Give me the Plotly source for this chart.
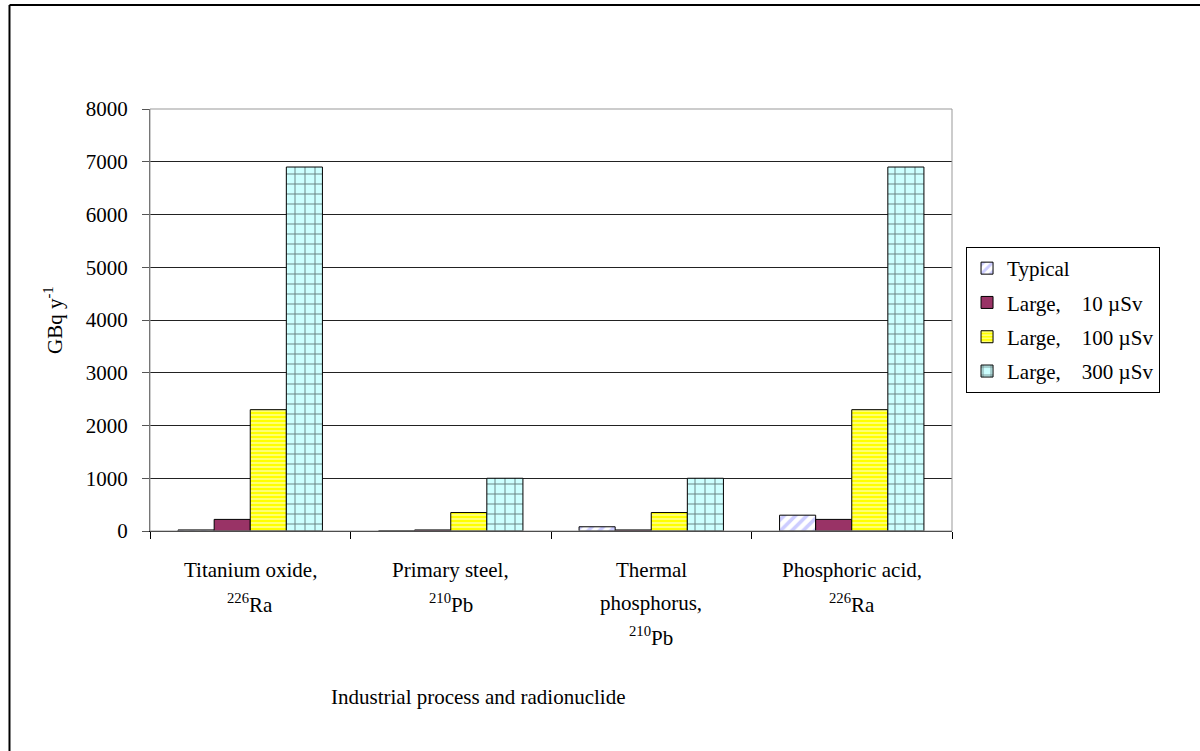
import plotly.graph_objects as go

# ---- data ----
categories = ["Titanium oxide", "Primary steel", "Thermal phosphorus", "Phosphoric acid"]
category_label_lines = [
    ["Titanium oxide,", "<sup>226</sup>Ra"],
    ["Primary steel,", "<sup>210</sup>Pb"],
    ["Thermal", "phosphorus,", "<sup>210</sup>Pb"],
    ["Phosphoric acid,", "<sup>226</sup>Ra"],
]
series_names = ["Typical", "Large,\u00a0\u00a0\u00a0 10 µSv", "Large,\u00a0\u00a0\u00a0 100 µSv", "Large,\u00a0\u00a0\u00a0 300 µSv"]
typical = [20, 0, 80, 300]
large_10 = [220, 20, 20, 220]
large_100 = [2300, 350, 350, 2300]
large_300 = [6900, 1000, 1000, 6900]
y_ticks = [0, 1000, 2000, 3000, 4000, 5000, 6000, 7000, 8000]
y_title = "GBq y<sup>-1</sup>"
x_title = "Industrial process and radionuclide"

FONT = "Liberation Serif"
FS = 21

patterns = [
    dict(shape="/", fgcolor="#9999FF", bgcolor="white", size=8, solidity=0.45, fillmode="overlay"),
    None,
    dict(shape="-", fgcolor="white", bgcolor="#FFFF00", size=4, solidity=0.45, fillmode="overlay"),
    dict(shape="+", fgcolor="#000000", bgcolor="#CCFFFF", size=10, solidity=0.18, fillmode="overlay"),
]
colors = ["white", "#993366", "#FFFF00", "#CCFFFF"]

fig = go.Figure()
for i, (name, vals) in enumerate(zip(series_names, [typical, large_10, large_100, large_300])):
    m = dict(color=colors[i], line=dict(color="#000000", width=1))
    if patterns[i] is not None:
        m["pattern"] = patterns[i]
    fig.add_trace(go.Bar(x=categories, y=vals, name=name, marker=m, legendgroup=f"g{i}"))

# category labels (multi-line with wide spacing)
line_y = [-0.092, -0.171, -0.249]
annotations = []
for cat, lines in zip(categories, category_label_lines):
    for j, ln in enumerate(lines):
        annotations.append(dict(x=cat, y=line_y[j], xref="x", yref="paper", text=ln,
                                showarrow=False, xanchor="center", yanchor="middle",
                                font=dict(family=FONT, size=FS, color="black")))
annotations.append(dict(x=0.409, y=-0.393, xref="paper", yref="paper", text=x_title,
                        showarrow=False, xanchor="center", yanchor="middle",
                        font=dict(family=FONT, size=FS, color="black")))
annotations.append(dict(x=-0.121, y=0.5, xref="paper", yref="paper", text=y_title,
                        showarrow=False, textangle=-90, xanchor="center", yanchor="middle",
                        font=dict(family=FONT, size=FS, color="black")))

shapes = [
    # plot area border
    dict(type="rect", xref="paper", yref="paper", x0=0, y0=0, x1=1, y1=1,
         line=dict(color="#999999", width=1), layer="above"),
    # outer frame (left and top edges visible)
    dict(type="line", xref="paper", yref="paper", x0=-0.1752, x1=-0.1752, y0=-0.53, y1=1.2464,
         line=dict(color="black", width=2)),
    dict(type="line", xref="paper", yref="paper", x0=-0.1752, x1=1.32, y0=1.2464, y1=1.2464,
         line=dict(color="black", width=2)),
]

fig.update_layout(
    width=1200, height=751,
    margin=dict(l=150, r=248, t=109, b=220),
    paper_bgcolor="white", plot_bgcolor="white",
    barmode="group", bargap=0.28, bargroupgap=0,
    font=dict(family=FONT, size=FS, color="black"),
    showlegend=True,
    legend=dict(x=1.0175, y=0.673, xanchor="left", yanchor="top",
                bordercolor="black", borderwidth=1, bgcolor="white",
                font=dict(family=FONT, size=FS, color="black"),
                traceorder="grouped", tracegroupgap=4, itemwidth=30),
    annotations=annotations,
    shapes=shapes,
)
fig.update_xaxes(showticklabels=False, ticks="outside", tickson="boundaries", ticklen=7,
                 tickcolor="black", showline=True, linecolor="black", linewidth=1,
                 showgrid=False, zeroline=False)
fig.update_yaxes(range=[0, 8000], tickvals=y_ticks, ticks="outside", ticklen=7,
                 tickcolor="#555555", showline=True, linecolor="#555555", linewidth=1,
                 showgrid=True, gridcolor="#222222", gridwidth=1, zeroline=False,
                 ticklabelstandoff=10,
                 tickfont=dict(family=FONT, size=FS, color="black"))

fig.write_html("out.html", config={"displayModeBar": False})

# remove the default page margin so the figure sits at the window origin
with open("out.html", "r", encoding="utf-8") as f:
    html = f.read()
html = html.replace("<body>", '<body style="margin:0;padding:0;">', 1)
with open("out.html", "w", encoding="utf-8") as f:
    f.write(html)
